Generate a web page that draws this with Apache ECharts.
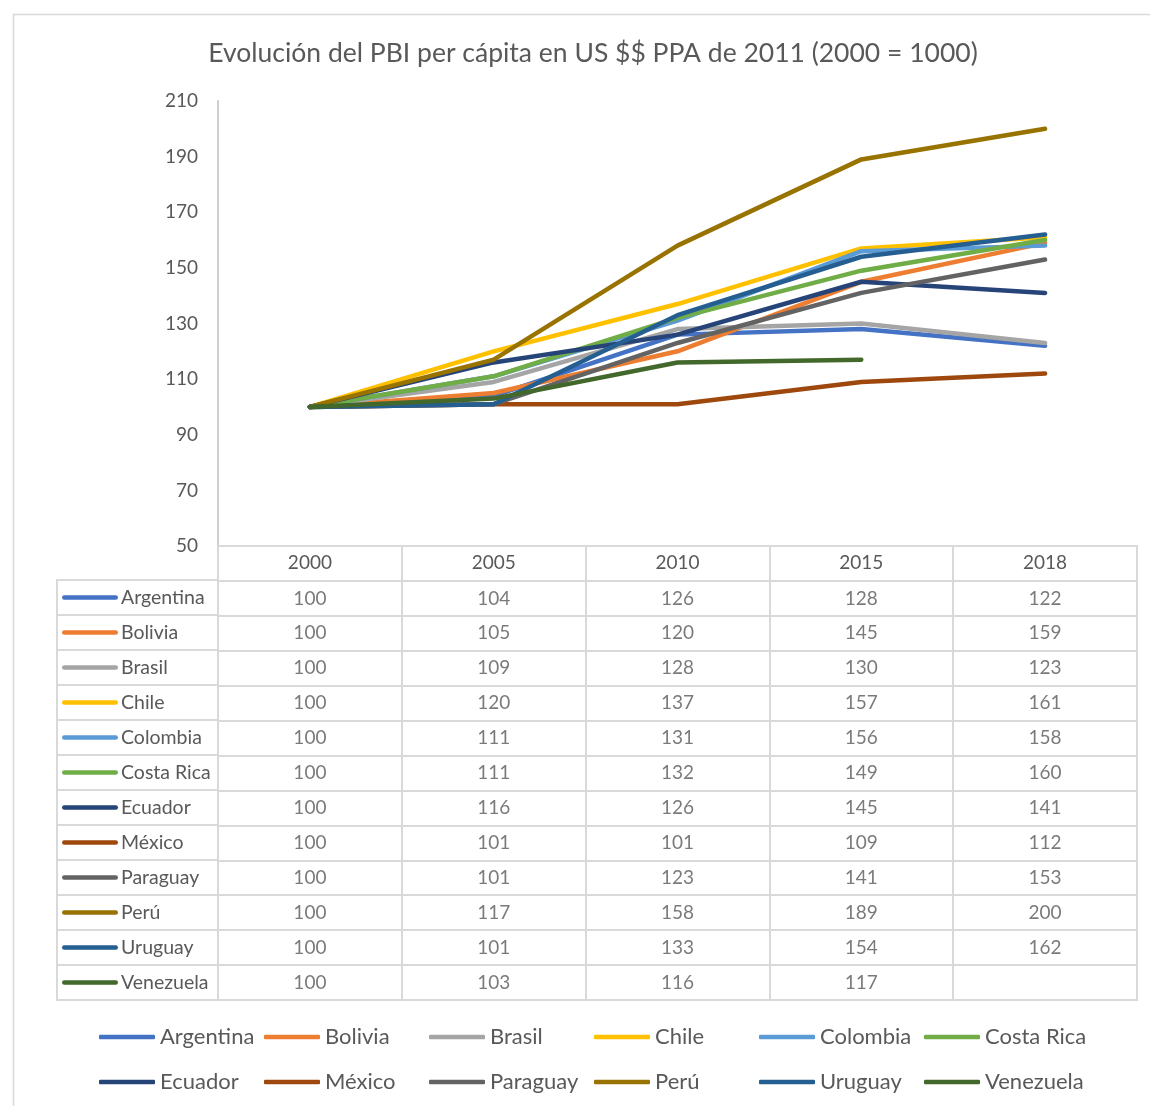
<!DOCTYPE html>
<html>
<head>
<meta charset="utf-8">
<script src="https://cdn.jsdelivr.net/npm/echarts@6/dist/echarts.min.js"></script>
<style>
  html, body { margin: 0; padding: 0; background: #fff; }
  #chart { width: 1150px; height: 1106px; }
</style>
</head>
<body>
<div id="chart"></div>
<script>
// MARK: - Data

const years = ['2000', '2005', '2010', '2015', '2018'];

const countries = ['Argentina', 'Bolivia', 'Brasil', 'Chile', 'Colombia', 'Costa Rica',
    'Ecuador', 'México', 'Paraguay', 'Perú', 'Uruguay', 'Venezuela'];

const colors = ['#4472C4', '#ED7D31', '#A5A5A5', '#FFC000', '#5B9BD5', '#70AD47',
    '#264478', '#9E480E', '#636363', '#997300', '#255E91', '#43682B'];

const argentina = [100, 104, 126, 128, 122];
const bolivia = [100, 105, 120, 145, 159];
const brasil = [100, 109, 128, 130, 123];
const chile = [100, 120, 137, 157, 161];
const colombia = [100, 111, 131, 156, 158];
const costaRica = [100, 111, 132, 149, 160];
const ecuador = [100, 116, 126, 145, 141];
const mexico = [100, 101, 101, 109, 112];
const paraguay = [100, 101, 123, 141, 153];
const peru = [100, 117, 158, 189, 200];
const uruguay = [100, 101, 133, 154, 162];
const venezuela = [100, 103, 116, 117, null];

const values = [argentina, bolivia, brasil, chile, colombia, costaRica,
    ecuador, mexico, paraguay, peru, uruguay, venezuela];

const yTicks = { min: 50, max: 210, interval: 20 };

// MARK: - Chart

const textColor = '#595959';
const gridColor = '#d9d9d9';
const fontFamily = 'Lato, "Liberation Sans", sans-serif';

let chart = echarts.init(document.getElementById('chart'));

// line series
let series = countries.map((name, i) => ({
    name: name,
    type: 'line',
    xAxisIndex: 0,
    yAxisIndex: 0,
    showSymbol: false,
    symbol: 'none',
    connectNulls: false,
    color: colors[i],
    lineStyle: { width: 4.5, cap: 'round', join: 'round', color: colors[i] },
    emphasis: { disabled: true },
    data: values[i]
}));

// table cells (values)
let cells = [];
countries.forEach((name, i) => {
    values[i].forEach((v, j) => {
        if (v !== null) cells.push([years[j], name, v]);
    });
});
series.push({
    type: 'scatter',
    xAxisIndex: 1,
    yAxisIndex: 1,
    symbolSize: 0,
    silent: true,
    label: {
        show: true,
        position: 'inside',
        color: textColor,
        fontSize: 19,
        fontFamily: fontFamily,
        formatter: p => '' + p.value[2]
    },
    data: cells
});

// rich styles for the legend keys in the table's first column
let rich = {
    n: { color: textColor, fontSize: 19.5, fontFamily: fontFamily, padding: [0, 0, 0, 3] }
};
colors.forEach((c, i) => {
    rich['k' + i] = { width: 56, height: 4.5, backgroundColor: c, borderRadius: 2.25 };
});

// one legend per item so the legend keeps Excel's fixed columns
let legends = countries.map((name, i) => ({
    data: [name],
    left: 99 + (i % 6) * 165,
    top: 1026 + Math.floor(i / 6) * 45,
    padding: 0,
    icon: 'roundRect',
    itemWidth: 56,
    itemHeight: 4.5,
    itemTextGap: -1,
    textStyle: { color: textColor, fontSize: 22, fontFamily: fontFamily }
}));

let option = {
    backgroundColor: '#fff',
    animation: false,
    title: {
        text: 'Evolución del PBI per cápita en US $$ PPA de 2011 (2000 = 1000)',
        left: 588,
        top: 35,
        textAlign: 'center',
        textStyle: { color: textColor, fontSize: 26.5, fontWeight: 'normal', fontFamily: fontFamily }
    },
    legend: legends,
    graphic: [
        {
            type: 'rect',
            left: 11,
            top: 12,
            shape: { width: 1160, height: 1110 },
            style: { fill: 'none', stroke: gridColor, lineWidth: 1.5 },
            silent: true
        }
    ],
    grid: [
        { left: 218, width: 919, top: 101, height: 445 },
        { left: 218, width: 919, top: 546, height: 454, show: true, borderColor: gridColor, borderWidth: 2, backgroundColor: 'transparent' },
        { left: 57, width: 161, top: 580, height: 420, show: true, borderColor: gridColor, borderWidth: 2, backgroundColor: 'transparent' }
    ],
    xAxis: [
        {
            gridIndex: 0,
            type: 'category',
            data: years,
            boundaryGap: true,
            axisLine: { show: true, lineStyle: { color: gridColor, width: 2 } },
            axisTick: { show: false },
            axisLabel: { color: textColor, fontSize: 19, fontFamily: fontFamily, margin: 7 }
        },
        {
            gridIndex: 1,
            type: 'category',
            data: years,
            axisLine: { show: false },
            axisTick: { show: false },
            axisLabel: { show: false },
            splitLine: { show: true, lineStyle: { color: gridColor, width: 2 } }
        },
        {
            gridIndex: 2,
            type: 'category',
            data: [''],
            axisLine: { show: false },
            axisTick: { show: false },
            axisLabel: { show: false }
        }
    ],
    yAxis: [
        {
            gridIndex: 0,
            type: 'value',
            min: yTicks.min,
            max: yTicks.max,
            interval: yTicks.interval,
            axisLine: { show: true, lineStyle: { color: '#cfcfcf', width: 2 } },
            axisTick: { show: false },
            splitLine: { show: false },
            axisLabel: { color: textColor, fontSize: 19, fontFamily: fontFamily, margin: 20 }
        },
        {
            gridIndex: 1,
            type: 'category',
            inverse: true,
            data: [''].concat(countries),
            axisLine: { show: false },
            axisTick: { show: false },
            axisLabel: { show: false },
            splitLine: { show: true, lineStyle: { color: gridColor, width: 2 } }
        },
        {
            gridIndex: 2,
            type: 'category',
            inverse: true,
            data: countries,
            axisLine: { show: false },
            axisTick: { show: false },
            splitLine: { show: true, lineStyle: { color: gridColor, width: 2 } },
            axisLabel: {
                inside: true,
                margin: 5,
                align: 'left',
                formatter: (v, i) => '{k' + i + '|}{n|' + v + '}',
                rich: rich
            }
        }
    ],
    series: series
};

option && chart.setOption(option);
</script>
</body>
</html>
